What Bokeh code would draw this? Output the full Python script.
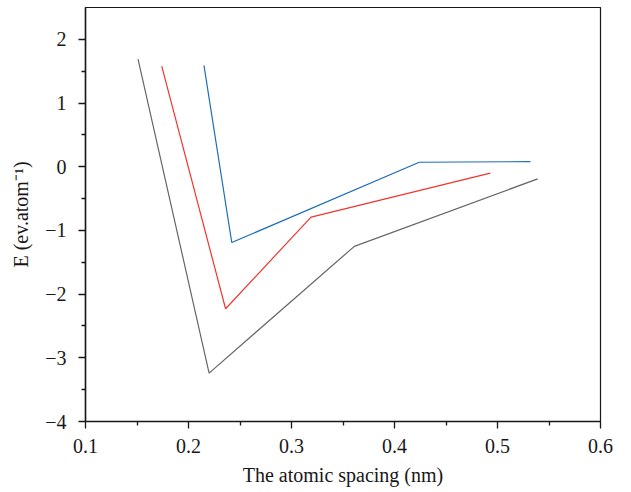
from bokeh.plotting import figure
from bokeh.models import FixedTicker, Range1d
from bokeh.embed import file_html
from bokeh.resources import INLINE

# Binding-energy curves: energy per atom vs. atomic spacing
spacing_gray = [0.151, 0.220, 0.361, 0.539]
energy_gray = [1.69, -3.24, -1.25, -0.19]

spacing_red = [0.174, 0.236, 0.319, 0.493]
energy_red = [1.58, -2.23, -0.79, -0.10]

spacing_blue = [0.215, 0.242, 0.424, 0.532]
energy_blue = [1.59, -1.19, 0.07, 0.08]

x_ticks = [0.1, 0.2, 0.3, 0.4, 0.5, 0.6]
x_tick_labels = ["0.1", "0.2", "0.3", "0.4", "0.5", "0.6"]
x_minor = [0.15, 0.25, 0.35, 0.45, 0.55]
y_ticks = [-4, -3, -2, -1, 0, 1, 2]
y_tick_labels = ["\u22124", "\u22123", "\u22122", "\u22121", "0", "1", "2"]
y_minor = [-3.5, -2.5, -1.5, -0.5, 0.5, 1.5]

FONT = "Liberation Serif"
INK = "#1a1718"

p = figure(width=631, height=492, output_backend="svg", toolbar_location=None,
           x_range=Range1d(0.1, 0.6), y_range=Range1d(-4, 2.5),
           min_border_left=85, min_border_right=31, min_border_top=7,
           min_border_bottom=71)

p.line(spacing_gray, energy_gray, line_color="#666666", line_width=1.2)
p.line(spacing_red, energy_red, line_color="#f0352e", line_width=1.2)
p.line(spacing_blue, energy_blue, line_color="#1f6db8", line_width=1.2)

p.grid.visible = False
p.outline_line_color = INK
p.outline_line_width = 1.2
p.background_fill_color = "white"
p.border_fill_color = "white"

p.xaxis.ticker = FixedTicker(ticks=x_ticks, minor_ticks=x_minor)
p.yaxis.ticker = FixedTicker(ticks=y_ticks, minor_ticks=y_minor)
p.xaxis.major_label_overrides = {t: s for t, s in zip(x_ticks, x_tick_labels)}
p.yaxis.major_label_overrides = {t: s for t, s in zip(y_ticks, y_tick_labels)}

p.xaxis.axis_label = "The atomic spacing (nm)"
p.yaxis.axis_label = "E (ev.atom\u207b\u00b9)"

for ax in (p.xaxis, p.yaxis):
    ax.axis_line_color = INK
    ax.axis_line_width = 1.5
    ax.major_tick_line_color = INK
    ax.minor_tick_line_color = INK
    ax.major_tick_line_width = 1.3
    ax.minor_tick_line_width = 1.3
    ax.major_tick_in = 0
    ax.minor_tick_in = 0
    ax.major_tick_out = 7
    ax.minor_tick_out = 4
    ax.major_label_text_font = FONT
    ax.major_label_text_font_size = "20px"
    ax.major_label_text_color = INK
    ax.axis_label_text_font = FONT
    ax.axis_label_text_font_size = "20px"
    ax.axis_label_text_font_style = "normal"
    ax.axis_label_text_color = INK

p.xaxis.major_label_standoff = 10
p.xaxis.axis_label_standoff = 8
p.yaxis.major_label_standoff = 12
p.yaxis.axis_label_standoff = 10

open("out.html", "w").write(file_html(p, INLINE))
